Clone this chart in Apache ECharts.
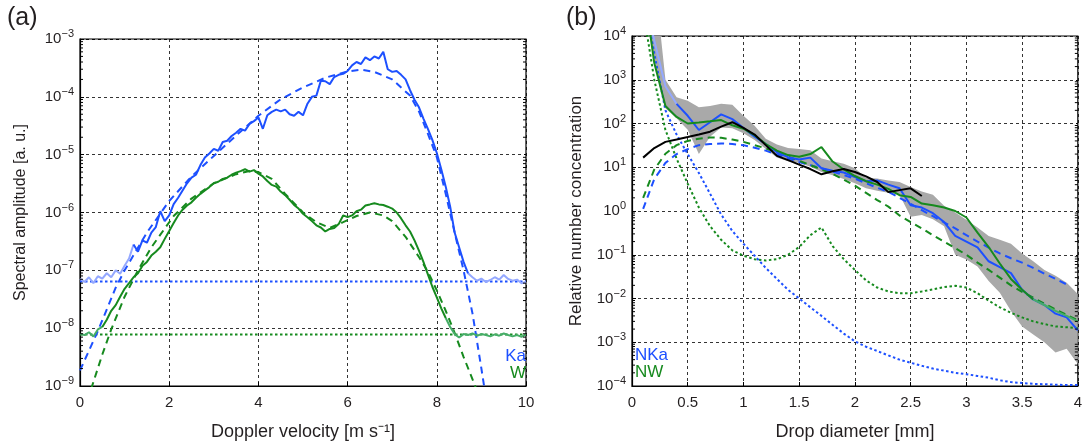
<!DOCTYPE html>
<html>
<head>
<meta charset="utf-8">
<script src="https://cdn.jsdelivr.net/npm/echarts@6/dist/echarts.min.js"></script>
<style>
  html, body { margin: 0; padding: 0; background: #fff; }
  #chart { width: 1085px; height: 446px; }
</style>
</head>
<body>
<div id="chart"></div>
<script>
// panel (a): Doppler spectra
const velocity = [0,0.1,0.2,0.3,0.4,0.5,0.6,0.7,0.8,0.9,1,1.1,1.2,1.3,1.4,1.5,1.6,1.7,1.8,1.9,2,2.1,2.2,2.3,2.4,2.5,2.6,2.7,2.8,2.9,3,3.1,3.2,3.3,3.4,3.5,3.6,3.7,3.8,3.9,4,4.1,4.2,4.3,4.4,4.5,4.6,4.7,4.8,4.9,5,5.1,5.2,5.3,5.4,5.5,5.6,5.7,5.8,5.9,6,6.1,6.2,6.3,6.4,6.5,6.6,6.7,6.8,6.9,7,7.1,7.2,7.3,7.4,7.5,7.6,7.7,7.8,7.9,8,8.1,8.2,8.3,8.4,8.5,8.6,8.7,8.8,8.9,9,9.1,9.2,9.3,9.4,9.5,9.6,9.7,9.8,9.9,10];
const kaSpectrum = [7.1e-8,6.3e-8,7.6e-8,6.0e-8,7.9e-8,7.2e-8,8.9e-8,7.6e-8,1.0e-7,8.7e-8,
  1.2e-7,1.6e-7,2.8e-7,2.1e-7,3.3e-7,3.0e-7,4.5e-7,5.6e-7,1.05e-6,7.1e-7,
  8.9e-7,1.4e-6,1.8e-6,2.4e-6,3.2e-6,4.0e-6,4.5e-6,6.6e-6,8.9e-6,1.05e-5,
  1.26e-5,1.17e-5,1.66e-5,1.74e-5,2.1e-5,2.4e-5,2.8e-5,2.6e-5,3.4e-5,3.8e-5,
  4.4e-5,2.8e-5,4.8e-5,5.5e-5,6.0e-5,5.6e-5,6.0e-5,5.0e-5,4.7e-5,5.5e-5,
  4.8e-5,7.6e-5,1.0e-4,1.05e-4,1.9e-4,1.86e-4,1.66e-4,2.2e-4,2.4e-4,2.5e-4,
  2.8e-4,3.5e-4,4.0e-4,3.7e-4,4.8e-4,4.3e-4,5.0e-4,4.6e-4,6.0e-4,3.0e-4,
  2.7e-4,2.8e-4,2.4e-4,2.0e-4,1.3e-4,8.9e-5,6.6e-5,4.2e-5,2.8e-5,1.8e-5,
  1.07e-5,5.6e-6,2.8e-6,1.26e-6,4.5e-7,2.5e-7,1.4e-7,8.9e-8,7.6e-8,6.6e-8,
  7.2e-8,6.3e-8,6.8e-8,7.6e-8,6.9e-8,8.3e-8,7.1e-8,6.6e-8,6.9e-8,6.0e-8,
  6.3e-8];
const wSpectrum = [7.9e-9,7.6e-9,8.5e-9,7.2e-9,9.5e-9,1.05e-8,1.4e-8,2.0e-8,2.5e-8,3.5e-8,
  4.8e-8,6.0e-8,7.6e-8,8.9e-8,1.2e-7,1.4e-7,1.8e-7,2.1e-7,2.5e-7,3.5e-7,
  4.8e-7,6.6e-7,8.9e-7,1.12e-6,1.32e-6,1.5e-6,1.8e-6,2.1e-6,2.4e-6,2.75e-6,
  3.2e-6,3.4e-6,3.8e-6,4.0e-6,4.5e-6,4.9e-6,5.2e-6,5.6e-6,5.1e-6,5.4e-6,
  4.7e-6,4.2e-6,3.5e-6,3.0e-6,2.8e-6,2.3e-6,2.0e-6,1.66e-6,1.35e-6,1.17e-6,
  9.5e-7,8.3e-7,7.1e-7,6.0e-7,5.5e-7,4.7e-7,5.2e-7,5.4e-7,6.3e-7,8.9e-7,
  8.3e-7,8.9e-7,1.05e-6,1.12e-6,1.32e-6,1.38e-6,1.45e-6,1.38e-6,1.35e-6,1.26e-6,
  1.17e-6,1.0e-6,7.9e-7,6.0e-7,4.7e-7,3.3e-7,2.2e-7,1.4e-7,8.5e-8,5.2e-8,
  3.4e-8,2.2e-8,1.5e-8,1.05e-8,7.9e-9,6.9e-9,7.9e-9,7.6e-9,8.1e-9,7.4e-9,
  7.9e-9,7.6e-9,7.2e-9,7.8e-9,7.4e-9,8.1e-9,7.6e-9,7.2e-9,7.6e-9,7.1e-9,
  7.9e-9];
const kaFitVelocity = [0,0.4,0.8,1,1.5,2,2.5,3,3.5,4,4.5,5,5.5,6,6.3,6.6,7,7.4,7.6,7.8,8,8.2,8.4,8.6,8.8,9,9.1];
const kaFit = [1.86e-9,8.9e-9,5.0e-8,1.0e-7,4.5e-7,1.58e-6,4.2e-6,9.5e-6,2.14e-5,4.7e-5,9.1e-5,1.45e-4,2.14e-4,2.75e-4,2.95e-4,2.7e-4,2.0e-4,1.05e-4,5.6e-5,2.3e-5,9.1e-6,2.1e-6,4.5e-7,1.0e-7,1.8e-8,2.0e-9,6.3e-10];
const wFitVelocity = [0.25,0.5,0.7,1,1.3,1.6,2.1,2.5,3,3.5,3.8,4,4.3,4.6,5,5.3,5.6,5.9,6.2,6.5,6.8,7,7.3,7.6,7.8,8,8.2,8.4,8.6,8.86,8.95];
const wFit = [8.9e-10,3.5e-9,9.5e-9,3.5e-8,1.0e-7,2.5e-7,8.7e-7,1.74e-6,3.2e-6,4.6e-6,5.2e-6,5.0e-6,3.8e-6,2.1e-6,1.0e-6,6.8e-7,5.4e-7,6.8e-7,8.7e-7,1.0e-6,8.9e-7,7.1e-7,3.8e-7,1.7e-7,9.5e-8,4.5e-8,2.0e-8,8.3e-9,3.2e-9,1.0e-9,6.3e-10];
const kaNoise = 6.4e-8;
const wNoise = 7.8e-9;

// panel (b): drop size distributions
const diameter = [0.1,0.2,0.3,0.4,0.5,0.6,0.7,0.8,0.9,1,1.1,1.2,1.3,1.4,1.5,1.6,1.7,1.8,1.9,2,2.1,2.2,2.3,2.4,2.5,2.6,2.7,2.8,2.9,3,3.1,3.2,3.3,3.4,3.5,3.6,3.7,3.8,3.9,4];
const nKa = [1.0e5,7.9e3,710,280,150,71,107,162,126,79, 50,34,22,17,15,16.6,9.5,8.3,7.6,6.0,
  4.8,5.0,4.0,3.3,1.35,1.2,0.89,0.56,0.27,0.20, 0.148,0.071,0.052,0.038,0.0158,0.0095,0.0071,0.0045,0.0037,0.00186];
const nW = [1.6e5,2.4e3,251,141,100,105,112,120,91,76, 54,34,24,19,17.4,20,29,13.5,8.9,6.3,
  4.8,4.0,3.2,2.3,2.1,1.48,1.35,1.2,1.0,0.71, 0.32,0.15,0.063,0.028,0.0158,0.0095,0.0071,0.0052,0.0040,0.0030];
const nDisdrometer = [16.6,27.5,38,43,49,56,65,85,107,79, 56,32,18.2,14.5,11.5,9.1,6.9,8.1,9.1,7.8,
  6.2,4.6,2.7,3.0,3.3,2.2,null,null,null,null, null,null,null,null,null,null,null,null,null,null];
const nKaFit = [1.12,5.4,12.6,20,26,32,34,35,34,32, 28,24,19.5,15.8,13.2,11.2,9.5,7.9,6.6,5.5,
  4.3,3.4,2.75,2.0,1.45,1.05,0.76,0.55,0.40,0.28, 0.20,0.145,0.107,0.083,0.066,0.050,0.037,0.028,0.021,null];
const nWFit = [2.0,8.9,20.4,32,40,45,48,47,43,38, 32,27,22,17.4,14.1,11.2,8.9,7.1,5.2,3.8,
  2.6,1.78,1.26,0.79,0.56,0.40,0.28,0.20,0.141,0.10, 0.066,0.045,0.030,0.020,0.0141,0.0105,0.0076,0.0056,0.0042,0.0032];
const nKaComponent = [1.0e5,4.0e3,200,56,20,7.4,2.5,0.83,0.35,0.178, 0.095,0.05,0.028,0.0158,0.010,0.0063,0.0040,0.0025,0.00158,0.00105,
  7.9e-4,6.3e-4,5.0e-4,4.0e-4,3.4e-4,2.9e-4,2.5e-4,2.24e-4,2.0e-4,1.86e-4, 1.7e-4,1.55e-4,1.35e-4,1.23e-4,1.17e-4,1.12e-4,1.1e-4,1.07e-4,1.05e-4,1.05e-4];
const nWComponent = [4.0e4,1.0e3,71,15.8,4.2,1.2,0.45,0.22,0.126,0.095, 0.079,0.074,0.079,0.10,0.15,0.28,0.42,0.158,0.079,0.045,
  0.026,0.0178,0.0145,0.0132,0.0132,0.0145,0.0162,0.0182,0.0195,0.0178, 0.0132,0.0089,0.0063,0.0047,0.0037,0.0030,0.0026,0.0023,0.0022,0.0021];
const bandDiameter = [0.15,0.2,0.25,0.3,0.4,0.5,0.6,0.7,0.8,0.9,1,1.1,1.2,1.3,1.4,1.5,1.6,1.7,1.8,1.9,2,2.1,2.2,2.3,2.4,2.5,2.6,2.7,2.8,2.9,3,3.1,3.2,3.3,3.4,3.5,3.6,3.7,3.8,3.9,4];
const bandHigh = [6.3e4,4.0e4,1.6e4,1000, 400,331,234,251,282,269,151,89,45,33,
  27.5,26.3,24.5,15.8,13.8,12,9.5,5.75,5.5,5.0, 4.6,3.55,2.8,2.34,1.32,0.93,0.63,0.42,0.27,0.22,
  0.178,0.107,0.071,0.045,0.033,0.023,0.0126];
const bandLow = [2.0e4,3.2e3,708,224, 132,72,20,50,81,78,60,42,26.3,16.6,
  13.8,12.6,10.2,7.8,6.6,5.4,4.3,3.3,2.9,2.6, 2.34,0.74,0.81,0.65,0.45,0.10,0.078,0.054,0.025,0.0135,
  0.0052,0.0023,0.0015,0.0010,5.8e-4,7.1e-4,3.2e-4];

// decades of the two log axes, used for the small 2..9 ticks
const decadesA = [-9, -8, -7, -6, -5, -4];
const decadesB = [-4, -3, -2, -1, 0, 1, 2, 3];

const FONT = 'Liberation Sans';
const TEXT = '#231f20';
const BLUE = '#1d50ff';
const BLUE_LIGHT = '#94a8ff';
const GREEN = '#168a1e';
const GREEN_LIGHT = '#46ad68';
const GREY = '#a9a9a9';

function pairs(xs, ys, from, to) {
  const out = [];
  for (let i = from; i <= to; i++) {
    if (ys[i] != null) out.push([xs[i], ys[i]]);
  }
  return out;
}

function logLabel(v) {
  const e = Math.round(Math.log10(v));
  return '{b|10}{s|' + (e < 0 ? '\u2212' + (-e) : e) + '}';
}

const logRich = {
  b: { fontSize: 15, fontFamily: FONT, color: TEXT },
  s: { fontSize: 11, fontFamily: FONT, color: TEXT, padding: [0, 0, 10, 0] }
};

function lineSeries(data, color, dash, width, panel, z) {
  return {
    type: 'line', data: data, xAxisIndex: panel, yAxisIndex: panel,
    showSymbol: false, symbol: 'none', silent: true, animation: false, z: z,
    lineStyle: { color: color, width: width, type: dash }
  };
}

// small log ticks on the inner side of the left and right frame
function minorTicks(panel, xValue, decades) {
  return {
    type: 'custom', xAxisIndex: panel, yAxisIndex: panel, silent: true, animation: false, z: 8,
    data: [[xValue, 1]],
    renderItem: function (params, api) {
      const cs = params.coordSys;
      const children = [];
      decades.forEach(function (e) {
        for (let m = 2; m <= 9; m++) {
          const y = api.coord([xValue, m * Math.pow(10, e)])[1];
          children.push({ type: 'line', shape: { x1: cs.x, y1: y, x2: cs.x + 3, y2: y }, style: { stroke: '#000', lineWidth: 1 } });
          children.push({ type: 'line', shape: { x1: cs.x + cs.width - 3, y1: y, x2: cs.x + cs.width, y2: y }, style: { stroke: '#000', lineWidth: 1 } });
        }
      });
      return { type: 'group', children: children };
    }
  };
}

function xAxisCfg(panel, min, max, interval, name) {
  return {
    gridIndex: panel, type: 'value', min: min, max: max, interval: interval,
    name: name, nameLocation: 'middle', nameGap: 37,
    nameTextStyle: { fontSize: 18, fontFamily: FONT, color: TEXT },
    axisLine: { show: true, onZero: false, lineStyle: { color: '#000', width: 1.2 } },
    axisTick: { show: true, inside: true, length: 4, lineStyle: { color: '#000' } },
    axisLabel: { fontSize: 15, fontFamily: FONT, color: TEXT, margin: 9 },
    splitLine: { show: true, lineStyle: { color: '#000', width: 0.8, type: [3, 3] } }
  };
}

function yAxisCfg(panel, min, max, splits, name, gap, nameSize) {
  return {
    gridIndex: panel, type: 'log', logBase: 10, min: min, max: max, splitNumber: splits,
    name: name, nameLocation: 'middle', nameGap: gap,
    nameTextStyle: { fontSize: nameSize, fontFamily: FONT, color: TEXT },
    axisLine: { show: true, lineStyle: { color: '#000', width: 1.2 } },
    axisTick: { show: true, inside: true, length: 4, lineStyle: { color: '#000' } },
    axisLabel: { formatter: logLabel, rich: logRich, margin: 6 },
    splitLine: { show: true, lineStyle: { color: '#000', width: 0.8, type: [3, 3] } }
  };
}

const chart = echarts.init(document.getElementById('chart'));

chart.setOption({
  animation: false,
  backgroundColor: '#fff',
  grid: [
    { left: 80, top: 39, width: 446, height: 350, show: true, borderColor: '#000', borderWidth: 1.2, backgroundColor: 'transparent' },
    { left: 632, top: 36, width: 449, height: 352, show: true, borderColor: '#000', borderWidth: 1.2, backgroundColor: 'transparent' }
  ],
  xAxis: [
    xAxisCfg(0, 0, 10, 2, 'Doppler velocity [m s\u207B\u00B9]'),
    xAxisCfg(1, 0, 4, 0.5, 'Drop diameter [mm]')
  ],
  yAxis: [
    yAxisCfg(0, 1e-9, 1e-3, 6, 'Spectral amplitude [a. u.]', 51, 16),
    yAxisCfg(1, 1e-4, 1e4, 8, 'Relative number concentration', 47, 17)
  ],
  graphic: [
    { type: 'text', x: 7, y: 6, style: { text: '(a)', font: '25px ' + FONT, fill: TEXT } },
    { type: 'text', x: 566, y: 6, style: { text: '(b)', font: '25px ' + FONT, fill: TEXT } },
    { type: 'text', x: 526, y: 356, z: 100, style: { text: 'Ka', font: '17px ' + FONT, fill: BLUE, align: 'right', verticalAlign: 'middle' } },
    { type: 'text', x: 526, y: 373, z: 100, style: { text: 'W', font: '17px ' + FONT, fill: GREEN, align: 'right', verticalAlign: 'middle' } },
    { type: 'text', x: 635, y: 355, z: 100, style: { text: 'NKa', font: '17px ' + FONT, fill: BLUE, align: 'left', verticalAlign: 'middle' } },
    { type: 'text', x: 635, y: 372, z: 100, style: { text: 'NW', font: '17px ' + FONT, fill: GREEN, align: 'left', verticalAlign: 'middle' } }
  ],
  series: [
    // panel (a)
    lineSeries([[0, kaNoise], [10, kaNoise]], BLUE, [2.5, 2.5], 2, 0, 3),
    lineSeries([[0, wNoise], [10, wNoise]], GREEN, [2.5, 2.5], 2, 0, 3),
    lineSeries(pairs(kaFitVelocity, kaFit, 0, kaFit.length - 1), BLUE, [7, 5], 2, 0, 4),
    lineSeries(pairs(wFitVelocity, wFit, 0, wFit.length - 1), GREEN, [7, 5], 2, 0, 4),
    lineSeries(pairs(velocity, kaSpectrum, 0, 12), BLUE_LIGHT, 'solid', 2, 0, 5),
    lineSeries(pairs(velocity, kaSpectrum, 87, 100), BLUE_LIGHT, 'solid', 2, 0, 5),
    lineSeries(pairs(velocity, kaSpectrum, 12, 87), BLUE, 'solid', 2, 0, 6),
    lineSeries(pairs(velocity, wSpectrum, 0, 5), GREEN_LIGHT, 'solid', 2, 0, 5),
    lineSeries(pairs(velocity, wSpectrum, 82, 100), GREEN_LIGHT, 'solid', 2, 0, 5),
    lineSeries(pairs(velocity, wSpectrum, 5, 82), GREEN, 'solid', 2, 0, 6),
    minorTicks(0, 0, decadesA),
    // panel (b)
    {
      type: 'custom', xAxisIndex: 1, yAxisIndex: 1, silent: true, animation: false, z: 1,
      data: [[1, 1]],
      renderItem: function (params, api) {
        const pts = [];
        for (let i = 0; i < bandDiameter.length; i++) pts.push(api.coord([bandDiameter[i], bandHigh[i]]));
        for (let i = bandDiameter.length - 1; i >= 0; i--) pts.push(api.coord([bandDiameter[i], bandLow[i]]));
        const cs = params.coordSys;
        return {
          type: 'polygon',
          shape: { points: pts },
          style: { fill: GREY },
          clipPath: { type: 'rect', shape: { x: cs.x, y: cs.y, width: cs.width, height: cs.height } }
        };
      }
    },
    lineSeries(pairs(diameter, nKaComponent, 0, 39), BLUE, [2.5, 2.5], 2, 1, 3),
    lineSeries(pairs(diameter, nWComponent, 0, 39), GREEN, [2.5, 2.5], 2, 1, 3),
    lineSeries(pairs(diameter, nKaFit, 0, 39), BLUE, [7, 5], 2, 1, 4),
    lineSeries(pairs(diameter, nWFit, 0, 39), GREEN, [7, 5], 2, 1, 4),
    lineSeries(pairs(diameter, nKa, 0, 3), BLUE_LIGHT, 'solid', 2, 1, 5),
    lineSeries(pairs(diameter, nKa, 3, 39), BLUE, 'solid', 2, 1, 6),
    lineSeries(pairs(diameter, nW, 0, 35), GREEN, 'solid', 2, 1, 6),
    lineSeries(pairs(diameter, nW, 35, 39), GREEN_LIGHT, 'solid', 2, 1, 6),
    lineSeries(pairs(diameter, nDisdrometer, 0, 39), '#000', 'solid', 2, 1, 7),
    minorTicks(1, 0, decadesB)
  ]
});

window.addEventListener('resize', function () { chart.resize(); });
</script>
</body>
</html>
